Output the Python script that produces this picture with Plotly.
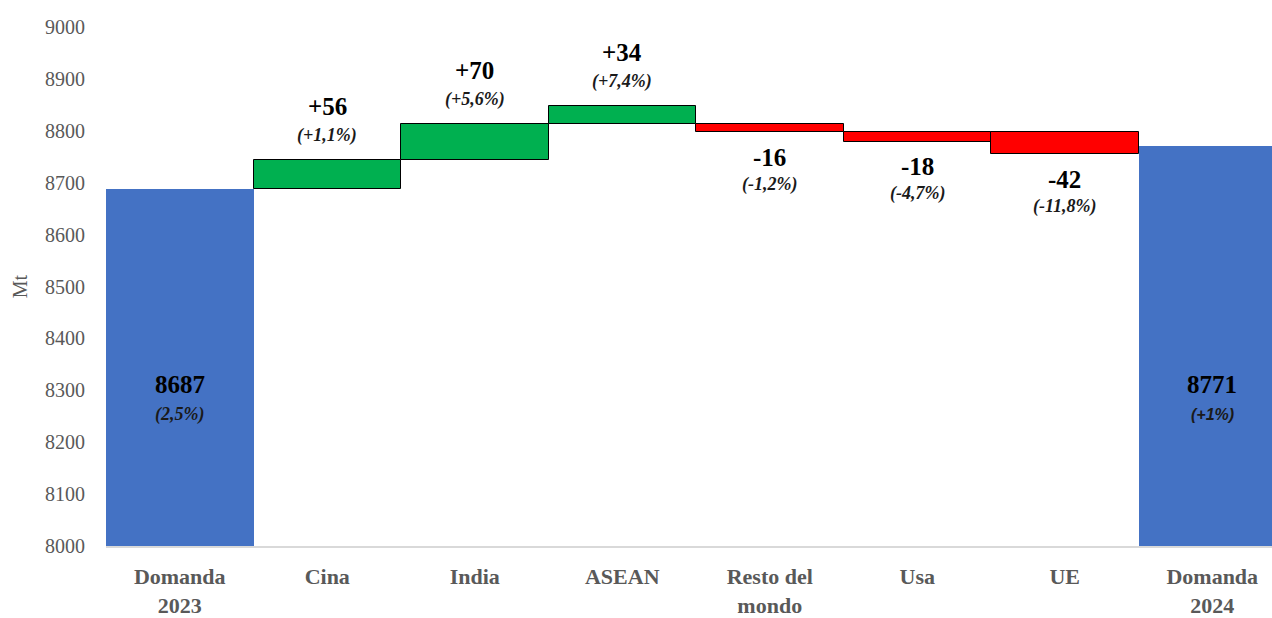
import plotly.graph_objects as go

# Categories and values (Mt)
categories = ["Domanda<br>2023", "Cina", "India", "ASEAN", "Resto del<br>mondo", "Usa", "UE", "Domanda<br>2024"]
totals = [8687, None, None, None, None, None, None, 8771]
changes = [None, 56, 70, 34, -16, -18, -42, None]
change_start = [None, 8687, 8743, 8813, 8813, 8797, 8797, None]
value_labels = ["8687", "+56", "+70", "+34", "-16", "-18", "-42", "8771"]
pct_labels = ["(2,5%)", "(+1,1%)", "(+5,6%)", "(+7,4%)", "(-1,2%)", "(-4,7%)", "(-11,8%)", "(+1%)"]

y_ticks = [8000, 8100, 8200, 8300, 8400, 8500, 8600, 8700, 8800, 8900, 9000]

BLUE = "#4472C4"
GREEN = "#00B050"
RED = "#FF0000"
SERIF = "'Liberation Serif', 'DejaVu Serif', serif"
SANS = "'Liberation Sans', 'DejaVu Sans', sans-serif"

x_pos = list(range(len(categories)))

fig = go.Figure()

# Total bars (start and end demand)
tot_x = [x for x, t in zip(x_pos, totals) if t is not None]
tot_y = [t for t in totals if t is not None]
fig.add_trace(go.Bar(
    x=tot_x, y=tot_y, width=1.0,
    marker=dict(color=BLUE, line=dict(width=0)),
    hoverinfo="skip", showlegend=False,
))

# Change bars, floating from their start level
chg_x = [x for x, c in zip(x_pos, changes) if c is not None]
chg_y = [c for c in changes if c is not None]
chg_base = [b for b in change_start if b is not None]
chg_col = [GREEN if c > 0 else RED for c in chg_y]
fig.add_trace(go.Bar(
    x=chg_x, y=chg_y, base=chg_base, width=1.0,
    marker=dict(color=chg_col, line=dict(color="black", width=1)),
    hoverinfo="skip", showlegend=False,
))

annotations = []
for x, c, b, vl, pl in zip(x_pos, changes, change_start, value_labels, pct_labels):
    if c is None:
        continue
    end = b + c
    if c > 0:
        vshift, pshift = 54, 25
    else:
        vshift, pshift = -25, -52
    annotations.append(dict(x=x, y=end, text=f"<b>{vl}</b>", showarrow=False,
                            yshift=vshift, yanchor="middle",
                            font=dict(family=SERIF, size=25, color="black")))
    annotations.append(dict(x=x, y=end, text=f"<b><i>{pl}</i></b>", showarrow=False,
                            yshift=pshift, yanchor="middle",
                            font=dict(family=SERIF, size=18, color="#1a1a1a")))

for x, t, vl, pl in zip(x_pos, totals, value_labels, pct_labels):
    if t is None:
        continue
    label_y = 8312
    pfont = SERIF if x == 0 else SANS
    annotations.append(dict(x=x, y=label_y, text=f"<b>{vl}</b>", showarrow=False,
                            yanchor="middle",
                            font=dict(family=SERIF, size=25, color="black")))
    annotations.append(dict(x=x, y=label_y, text=f"<b><i>{pl}</i></b>", showarrow=False,
                            yshift=-30, yanchor="middle",
                            font=dict(family=pfont, size=16 if x else 18, color="#1a1a1a")))

fig.update_layout(
    width=1272, height=618,
    margin=dict(l=106, r=0, t=27, b=70),
    paper_bgcolor="white", plot_bgcolor="white",
    barmode="overlay", bargap=0,
    annotations=annotations,
    xaxis=dict(
        tickmode="array", tickvals=x_pos, ticktext=[f"<b>{c}</b>" for c in categories],
        range=[-0.5, 7.405], showgrid=False, zeroline=False,
        showline=True, linecolor="#D9D9D9", linewidth=1.5, ticks="",
        ticklabelstandoff=10,
        tickfont=dict(family=SERIF, size=22, color="#595959"),
    ),
    yaxis=dict(
        range=[8000, 9000], tickvals=y_ticks, showgrid=False, zeroline=False,
        showline=False, ticks="", ticklabelstandoff=20,
        tickfont=dict(family=SERIF, size=20, color="#595959"),
        title=dict(text="Mt", font=dict(family=SERIF, size=20, color="#595959"), standoff=12),
    ),
)

fig.write_html("out.html")
